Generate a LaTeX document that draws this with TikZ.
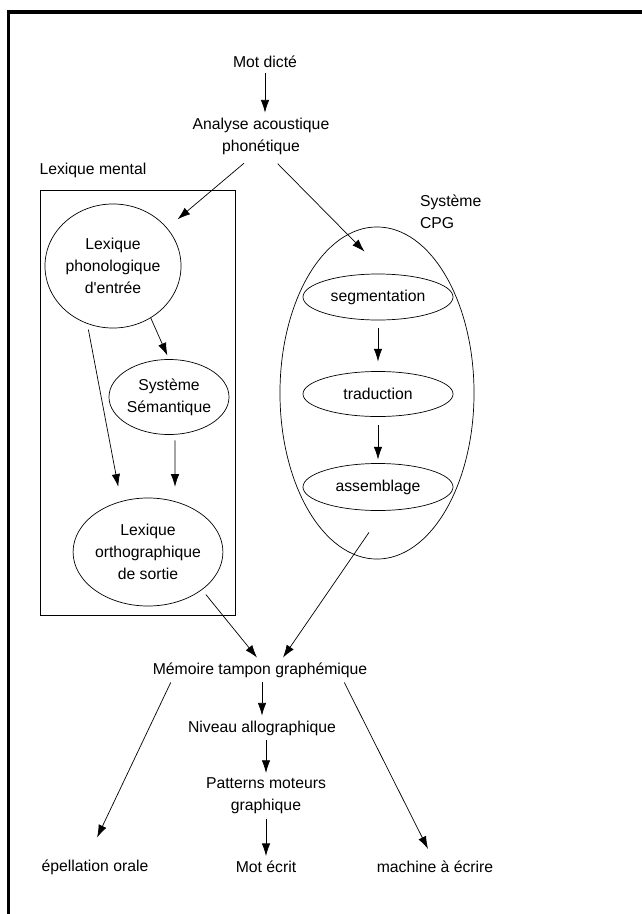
\documentclass[tikz,border=0pt]{standalone}
\usepackage{fontspec}
\setmainfont{Liberation Sans}
\usetikzlibrary{shapes,arrows,arrows.meta,positioning,calc}

\begin{document}
\begin{tikzpicture}[x=0.025cm, y=-0.025cm, line width=0.5pt,
  font=\fontsize{11.2}{15.6}\selectfont,
  bulle/.style={draw, ellipse, inner sep=0pt, align=center},
  texte/.style={align=center},
  fleche/.style={-{Latex[length=9pt,width=6pt]}}]
\useasboundingbox (0,0) rectangle (642,914);
% cadre
\draw[line width=2.2pt] (8.7,914) -- (8.7,12) -- (642,12);

% entree
\node[texte] (mot) at (265,62) {Mot dicté};
\node[texte] (analyse) at (261,136) {Analyse acoustique\\phonétique};

% lexique mental
\node (mentallabel) at (93,170) {Lexique mental};
\node[draw, rectangle, minimum width=4.875cm, minimum height=10.625cm] (mental) at (137.5,402.5) {};
\node[bulle, minimum width=3.4cm, minimum height=3.1cm] (lexphon) at (113,266) {Lexique\\phonologique\\d\textquotesingle entrée};
\node[bulle, minimum width=3cm, minimum height=1.875cm] (sem) at (169,397) {Système\\Sémantique};
\node[bulle, minimum width=3.6cm, minimum height=2.7cm] (orth) at (148,552) {Lexique\\orthographique\\de sortie};

% systeme CPG
\node[align=left, anchor=west] (cpglabel) at (415,212) {Système\\CPG};
\node[bulle, minimum width=4.85cm, minimum height=8.3cm] (cpg) at (377,393) {};
\node[bulle, minimum width=3.75cm, minimum height=1.15cm] (seg) at (378,297) {segmentation};
\node[bulle, minimum width=3.75cm, minimum height=1.125cm] (trad) at (378,394) {traduction};
\node[bulle, minimum width=3.75cm, minimum height=1.175cm] (assem) at (378,487) {assemblage};

% sortie
\node (memoire) at (260,670) {Mémoire tampon graphémique};
\node (niveau) at (262,728) {Niveau allographique};
\node[texte] (patterns) at (266,796) {Patterns moteurs\\graphique};
\node (epel) at (95,867) {épellation orale};
\node (motecrit) at (266,867) {Mot écrit};
\node (machine) at (435,867) {machine à écrire};

% fleches
\draw[fleche] (mot) -- (mot |- analyse.north);
\draw[fleche, shorten <=0.15cm, shorten >=0.34cm] (analyse.242) -- (lexphon.35);
\draw[fleche, shorten <=0.15cm, shorten >=0.78cm] (analyse.298) -- (seg.70);
\draw[fleche, shorten >=0.1cm] (lexphon.-54) -- (sem.north);
\draw[fleche, shorten <=0.15cm, shorten >=0.37cm] (lexphon.246) -- (orth.118);
\draw[fleche, shorten <=0.14cm, shorten >=0.27cm] ([xshift=0.15cm]sem.south) -- ([xshift=0.675cm]orth.north);
\draw[fleche, shorten <=0.2cm, shorten >=0.24cm] (seg) -- (trad);
\draw[fleche, shorten <=0.21cm, shorten >=0.09cm] (trad) -- (assem);
\draw[fleche, shorten <=0.15cm] (orth.-35) -- ([xshift=-0.075cm]memoire.north);
\draw[fleche] ($(cpg.south)+(-8,-27)$) -- ([xshift=0.575cm]memoire.north);
\draw[fleche] (niveau |- memoire.south) -- (niveau);
\draw[fleche] (patterns |- niveau.south) -- (patterns);
\draw[fleche] (patterns) -- (motecrit);
\draw[fleche, shorten >=0.47cm] ([xshift=0.575cm]memoire.south west) -- ([xshift=-0.15cm]epel.north);
\draw[fleche, shorten >=0.2cm] ([xshift=-0.7cm]memoire.south east) -- ([xshift=-0.085cm]machine.north);
\end{tikzpicture}
\end{document}
